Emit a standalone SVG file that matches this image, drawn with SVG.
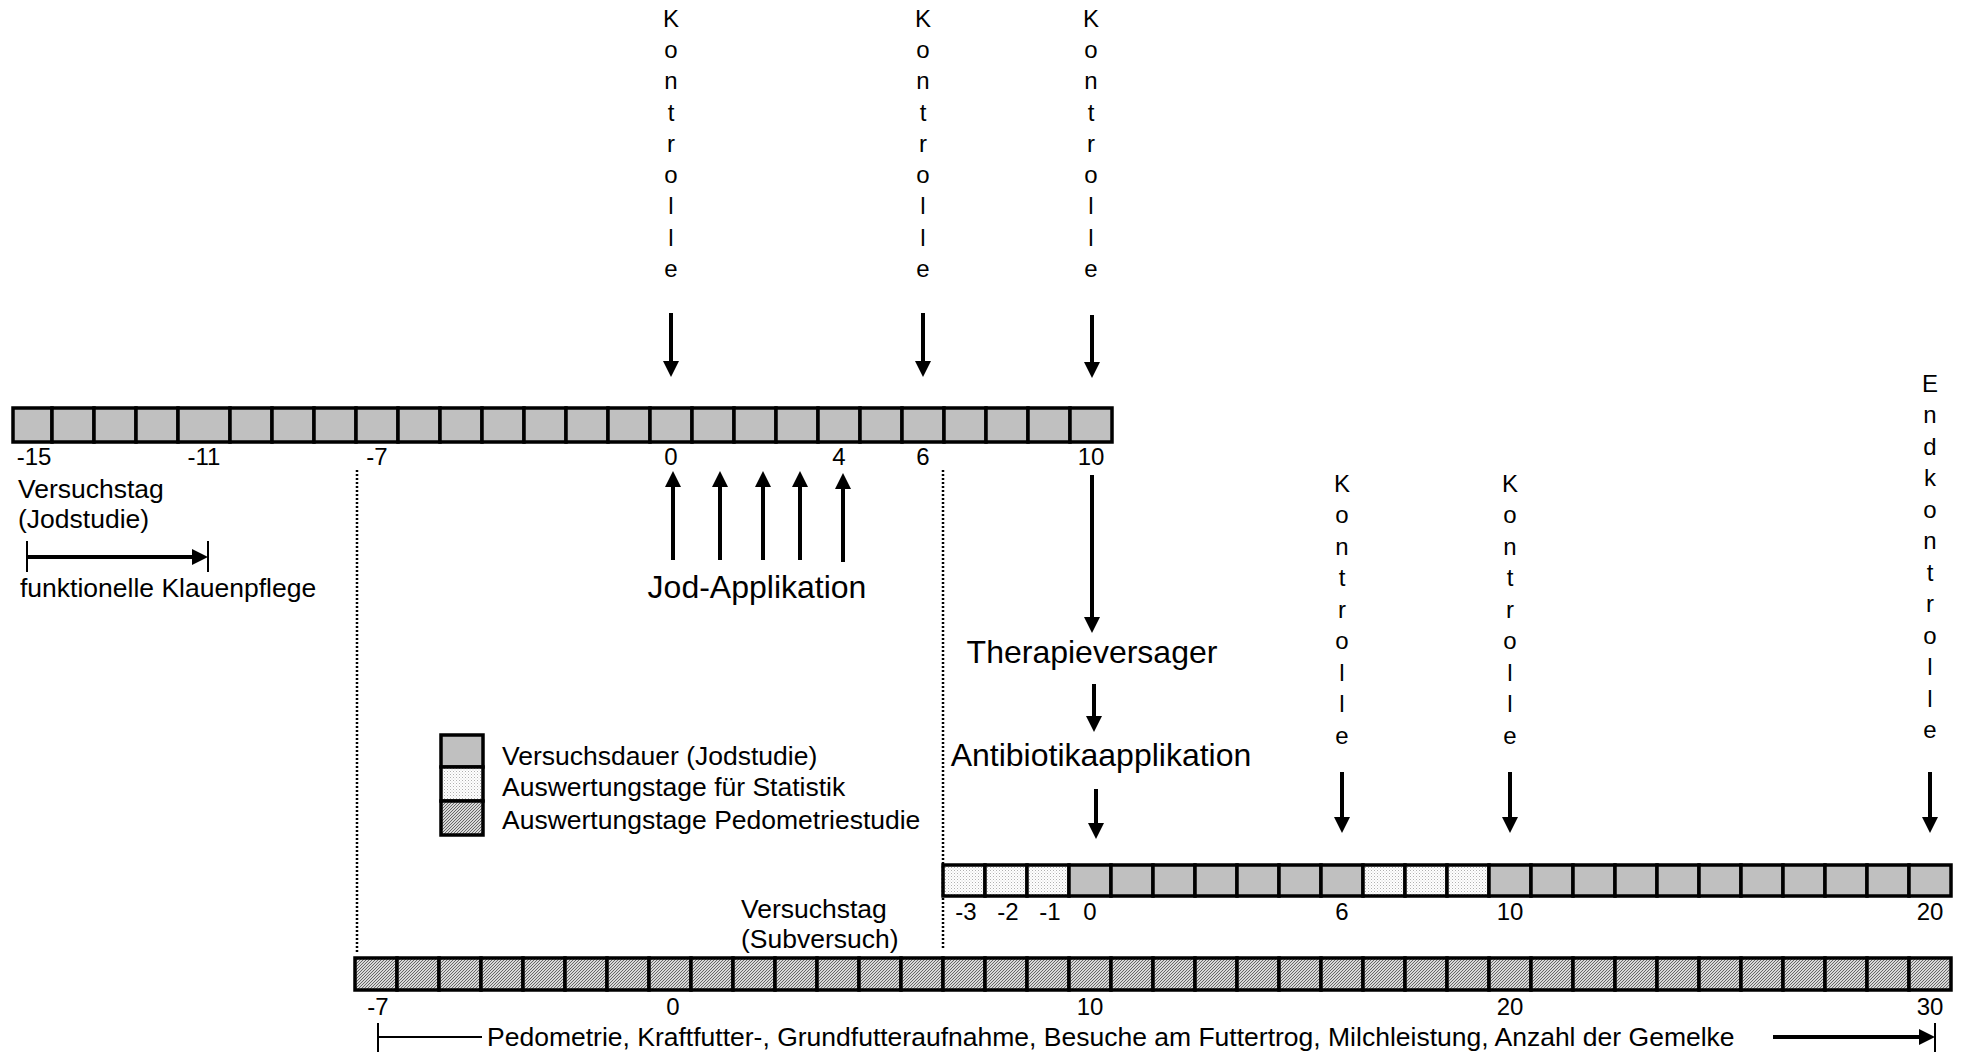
<svg xmlns="http://www.w3.org/2000/svg" width="1966" height="1056" viewBox="0 0 1966 1056">
<style>
text{font-family:"Liberation Sans",Arial,sans-serif;fill:#000}
.t{font-size:26.5px}
.n{font-size:24px;text-anchor:middle}
.v{font-size:24px;text-anchor:middle}
.big{font-size:32px}
.c{stroke:#000;stroke-width:3.5}
.g{fill:#c0c0c0}
.s{fill:url(#dots)}
.h{fill:url(#hatch)}
.arr{stroke:#000;stroke-width:4;fill:none;marker-end:url(#ah)}
.dash{stroke:#000;stroke-width:2.5;stroke-dasharray:2 2;fill:none}
.ln{stroke:#000;stroke-width:2;fill:none}
</style>
<defs>
<pattern id="dots" width="3" height="3" patternUnits="userSpaceOnUse"><rect width="3" height="3" fill="#fff"/><rect width="1" height="1" fill="#b0b0b0"/><rect x="1.5" y="1.5" width="1" height="1" fill="#d0d0d0"/></pattern>
<pattern id="hatch" width="3" height="3" patternUnits="userSpaceOnUse"><rect width="3" height="3" fill="#d8d8d8"/><path d="M-1,1 l2,-2 M0,3 l3,-3 M2,4 l2,-2" stroke="#666" stroke-width="1"/></pattern>
<marker id="ah" viewBox="0 0 16 16" refX="0" refY="8" markerWidth="16" markerHeight="16" markerUnits="userSpaceOnUse" orient="auto"><path d="M0,0 L16,8 L0,16 z" fill="#000"/></marker>
</defs>
<rect width="1966" height="1056" fill="#fff"/>

<g id="bar-jodstudie">
<rect class="g c" x="13" y="408" width="39" height="34"/>
<rect class="g c" x="52" y="408" width="42" height="34"/>
<rect class="g c" x="94" y="408" width="42" height="34"/>
<rect class="g c" x="136" y="408" width="42" height="34"/>
<rect class="g c" x="178" y="408" width="52" height="34"/>
<rect class="g c" x="230" y="408" width="42" height="34"/>
<rect class="g c" x="272" y="408" width="42" height="34"/>
<rect class="g c" x="314" y="408" width="42" height="34"/>
<rect class="g c" x="356" y="408" width="42" height="34"/>
<rect class="g c" x="398" y="408" width="42" height="34"/>
<rect class="g c" x="440" y="408" width="42" height="34"/>
<rect class="g c" x="482" y="408" width="42" height="34"/>
<rect class="g c" x="524" y="408" width="42" height="34"/>
<rect class="g c" x="566" y="408" width="42" height="34"/>
<rect class="g c" x="608" y="408" width="42" height="34"/>
<rect class="g c" x="650" y="408" width="42" height="34"/>
<rect class="g c" x="692" y="408" width="42" height="34"/>
<rect class="g c" x="734" y="408" width="42" height="34"/>
<rect class="g c" x="776" y="408" width="42" height="34"/>
<rect class="g c" x="818" y="408" width="42" height="34"/>
<rect class="g c" x="860" y="408" width="42" height="34"/>
<rect class="g c" x="902" y="408" width="42" height="34"/>
<rect class="g c" x="944" y="408" width="42" height="34"/>
<rect class="g c" x="986" y="408" width="42" height="34"/>
<rect class="g c" x="1028" y="408" width="42" height="34"/>
<rect class="g c" x="1070" y="408" width="42" height="34"/>
<text class="n" x="34" y="465">-15</text>
<text class="n" x="204" y="465">-11</text>
<text class="n" x="377" y="465">-7</text>
<text class="n" x="671" y="465">0</text>
<text class="n" x="839" y="465">4</text>
<text class="n" x="923" y="465">6</text>
<text class="n" x="1091" y="465">10</text>
</g>

<g id="label-versuchstag-jod">
<text class="t" x="18" y="498">Versuchstag</text>
<text class="t" x="18" y="528">(Jodstudie)</text>
</g>
<g id="label-klauenpflege">
<text class="t" x="20" y="597">funktionelle Klauenpflege</text>
</g>

<g id="kontrolle-0">
<text class="v" x="671"><tspan x="671" y="27">K</tspan><tspan x="671" y="58">o</tspan><tspan x="671" y="89">n</tspan><tspan x="671" y="121">t</tspan><tspan x="671" y="152">r</tspan><tspan x="671" y="183">o</tspan><tspan x="671" y="214">l</tspan><tspan x="671" y="246">l</tspan><tspan x="671" y="277">e</tspan></text>
</g>
<g id="kontrolle-6">
<text class="v" x="923"><tspan x="923" y="27">K</tspan><tspan x="923" y="58">o</tspan><tspan x="923" y="89">n</tspan><tspan x="923" y="121">t</tspan><tspan x="923" y="152">r</tspan><tspan x="923" y="183">o</tspan><tspan x="923" y="214">l</tspan><tspan x="923" y="246">l</tspan><tspan x="923" y="277">e</tspan></text>
</g>
<g id="kontrolle-10">
<text class="v" x="1091"><tspan x="1091" y="27">K</tspan><tspan x="1091" y="58">o</tspan><tspan x="1091" y="89">n</tspan><tspan x="1091" y="121">t</tspan><tspan x="1091" y="152">r</tspan><tspan x="1091" y="183">o</tspan><tspan x="1091" y="214">l</tspan><tspan x="1091" y="246">l</tspan><tspan x="1091" y="277">e</tspan></text>
</g>

<g id="label-jod-applikation">
<text class="big" x="757" y="598" text-anchor="middle">Jod-Applikation</text>
</g>
<g id="label-therapieversager">
<text class="big" x="1092" y="663" text-anchor="middle">Therapieversager</text>
</g>
<g id="label-antibiotika">
<text class="big" x="1101" y="766" text-anchor="middle">Antibiotikaapplikation</text>
</g>

<g id="legend">
<rect class="g c" x="441" y="735" width="42" height="32"/>
<rect class="s c" x="441" y="767" width="42" height="34"/>
<rect class="h c" x="441" y="801" width="42" height="34"/>
<text class="t" x="502" y="765">Versuchsdauer (Jodstudie)</text>
<text class="t" x="502" y="796">Auswertungstage für Statistik</text>
<text class="t" x="502" y="829">Auswertungstage Pedometriestudie</text>
</g>

<g id="kontrolle-sub-6">
<text class="v" x="1342"><tspan x="1342" y="492">K</tspan><tspan x="1342" y="523">o</tspan><tspan x="1342" y="555">n</tspan><tspan x="1342" y="586">t</tspan><tspan x="1342" y="618">r</tspan><tspan x="1342" y="649">o</tspan><tspan x="1342" y="681">l</tspan><tspan x="1342" y="712">l</tspan><tspan x="1342" y="744">e</tspan></text>
</g>
<g id="kontrolle-sub-10">
<text class="v" x="1510"><tspan x="1510" y="492">K</tspan><tspan x="1510" y="523">o</tspan><tspan x="1510" y="555">n</tspan><tspan x="1510" y="586">t</tspan><tspan x="1510" y="618">r</tspan><tspan x="1510" y="649">o</tspan><tspan x="1510" y="681">l</tspan><tspan x="1510" y="712">l</tspan><tspan x="1510" y="744">e</tspan></text>
</g>
<g id="endkontrolle">
<text class="v" x="1930"><tspan x="1930" y="392">E</tspan><tspan x="1930" y="423">n</tspan><tspan x="1930" y="455">d</tspan><tspan x="1930" y="486">k</tspan><tspan x="1930" y="518">o</tspan><tspan x="1930" y="549">n</tspan><tspan x="1930" y="581">t</tspan><tspan x="1930" y="612">r</tspan><tspan x="1930" y="644">o</tspan><tspan x="1930" y="675">l</tspan><tspan x="1930" y="707">l</tspan><tspan x="1930" y="738">e</tspan></text>
</g>

<g id="bar-subversuch">
<rect class="s c" x="943" y="865" width="42" height="31"/>
<rect class="s c" x="985" y="865" width="42" height="31"/>
<rect class="s c" x="1027" y="865" width="42" height="31"/>
<rect class="g c" x="1069" y="865" width="42" height="31"/>
<rect class="g c" x="1111" y="865" width="42" height="31"/>
<rect class="g c" x="1153" y="865" width="42" height="31"/>
<rect class="g c" x="1195" y="865" width="42" height="31"/>
<rect class="g c" x="1237" y="865" width="42" height="31"/>
<rect class="g c" x="1279" y="865" width="42" height="31"/>
<rect class="g c" x="1321" y="865" width="42" height="31"/>
<rect class="s c" x="1363" y="865" width="42" height="31"/>
<rect class="s c" x="1405" y="865" width="42" height="31"/>
<rect class="s c" x="1447" y="865" width="42" height="31"/>
<rect class="g c" x="1489" y="865" width="42" height="31"/>
<rect class="g c" x="1531" y="865" width="42" height="31"/>
<rect class="g c" x="1573" y="865" width="42" height="31"/>
<rect class="g c" x="1615" y="865" width="42" height="31"/>
<rect class="g c" x="1657" y="865" width="42" height="31"/>
<rect class="g c" x="1699" y="865" width="42" height="31"/>
<rect class="g c" x="1741" y="865" width="42" height="31"/>
<rect class="g c" x="1783" y="865" width="42" height="31"/>
<rect class="g c" x="1825" y="865" width="42" height="31"/>
<rect class="g c" x="1867" y="865" width="42" height="31"/>
<rect class="g c" x="1909" y="865" width="42" height="31"/>
<text class="n" x="966" y="920">-3</text>
<text class="n" x="1008" y="920">-2</text>
<text class="n" x="1050" y="920">-1</text>
<text class="n" x="1090" y="920">0</text>
<text class="n" x="1342" y="920">6</text>
<text class="n" x="1510" y="920">10</text>
<text class="n" x="1930" y="920">20</text>
</g>

<g id="label-versuchstag-sub">
<text class="t" x="741" y="918">Versuchstag</text>
<text class="t" x="741" y="948">(Subversuch)</text>
</g>

<g id="bar-pedometrie">
<rect class="h c" x="355" y="958" width="42" height="32"/>
<rect class="h c" x="397" y="958" width="42" height="32"/>
<rect class="h c" x="439" y="958" width="42" height="32"/>
<rect class="h c" x="481" y="958" width="42" height="32"/>
<rect class="h c" x="523" y="958" width="42" height="32"/>
<rect class="h c" x="565" y="958" width="42" height="32"/>
<rect class="h c" x="607" y="958" width="42" height="32"/>
<rect class="h c" x="649" y="958" width="42" height="32"/>
<rect class="h c" x="691" y="958" width="42" height="32"/>
<rect class="h c" x="733" y="958" width="42" height="32"/>
<rect class="h c" x="775" y="958" width="42" height="32"/>
<rect class="h c" x="817" y="958" width="42" height="32"/>
<rect class="h c" x="859" y="958" width="42" height="32"/>
<rect class="h c" x="901" y="958" width="42" height="32"/>
<rect class="h c" x="943" y="958" width="42" height="32"/>
<rect class="h c" x="985" y="958" width="42" height="32"/>
<rect class="h c" x="1027" y="958" width="42" height="32"/>
<rect class="h c" x="1069" y="958" width="42" height="32"/>
<rect class="h c" x="1111" y="958" width="42" height="32"/>
<rect class="h c" x="1153" y="958" width="42" height="32"/>
<rect class="h c" x="1195" y="958" width="42" height="32"/>
<rect class="h c" x="1237" y="958" width="42" height="32"/>
<rect class="h c" x="1279" y="958" width="42" height="32"/>
<rect class="h c" x="1321" y="958" width="42" height="32"/>
<rect class="h c" x="1363" y="958" width="42" height="32"/>
<rect class="h c" x="1405" y="958" width="42" height="32"/>
<rect class="h c" x="1447" y="958" width="42" height="32"/>
<rect class="h c" x="1489" y="958" width="42" height="32"/>
<rect class="h c" x="1531" y="958" width="42" height="32"/>
<rect class="h c" x="1573" y="958" width="42" height="32"/>
<rect class="h c" x="1615" y="958" width="42" height="32"/>
<rect class="h c" x="1657" y="958" width="42" height="32"/>
<rect class="h c" x="1699" y="958" width="42" height="32"/>
<rect class="h c" x="1741" y="958" width="42" height="32"/>
<rect class="h c" x="1783" y="958" width="42" height="32"/>
<rect class="h c" x="1825" y="958" width="42" height="32"/>
<rect class="h c" x="1867" y="958" width="42" height="32"/>
<rect class="h c" x="1909" y="958" width="42" height="32"/>
<text class="n" x="378" y="1015">-7</text>
<text class="n" x="673" y="1015">0</text>
<text class="n" x="1090" y="1015">10</text>
<text class="n" x="1510" y="1015">20</text>
<text class="n" x="1930" y="1015">30</text>
</g>

<g id="label-pedometrie">
<text class="t" x="487" y="1046">Pedometrie, Kraftfutter-, Grundfutteraufnahme, Besuche am Futtertrog, Milchleistung, Anzahl der Gemelke</text>
</g>

<g id="connectors">
<line class="arr" x1="671" y1="313" x2="671" y2="361"/>
<line class="arr" x1="923" y1="313" x2="923" y2="361"/>
<line class="arr" x1="1092" y1="315" x2="1092" y2="362"/>
<line class="arr" x1="673" y1="560" x2="673" y2="487"/>
<line class="arr" x1="720" y1="560" x2="720" y2="487"/>
<line class="arr" x1="763" y1="560" x2="763" y2="487"/>
<line class="arr" x1="800" y1="560" x2="800" y2="487"/>
<line class="arr" x1="843" y1="562" x2="843" y2="489"/>
<line class="arr" x1="1092" y1="475" x2="1092" y2="617"/>
<line class="arr" x1="1094" y1="684" x2="1094" y2="716"/>
<line class="arr" x1="1096" y1="789" x2="1096" y2="823"/>
<line class="arr" x1="1342" y1="772" x2="1342" y2="817"/>
<line class="arr" x1="1510" y1="772" x2="1510" y2="817"/>
<line class="arr" x1="1930" y1="772" x2="1930" y2="817"/>
<line class="arr" x1="27" y1="557" x2="192" y2="557"/>
<line class="ln" x1="27" y1="541" x2="27" y2="572"/>
<line class="ln" x1="208" y1="541" x2="208" y2="572"/>
<line class="dash" x1="357" y1="470" x2="357" y2="952"/>
<line class="dash" x1="943" y1="470" x2="943" y2="950"/>
<line class="ln" x1="378" y1="1023" x2="378" y2="1052"/>
<line class="ln" x1="378" y1="1037" x2="482" y2="1037"/>
<line class="arr" x1="1773" y1="1037" x2="1919" y2="1037"/>
<line class="ln" x1="1935" y1="1023" x2="1935" y2="1052"/>
</g>
</svg>
